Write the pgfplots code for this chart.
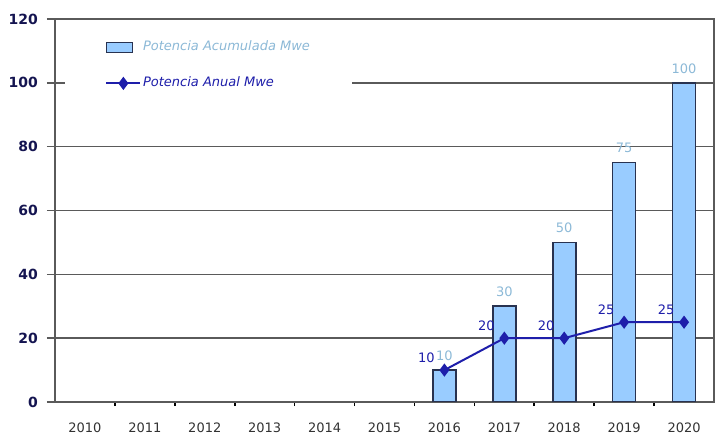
\documentclass[border=0pt]{standalone}
\usepackage{pgfplots}
\pgfplotsset{compat=1.18}
\usepackage{fontspec}
\setmainfont{DejaVu Sans}
\definecolor{barfill}{RGB}{153,204,255}
\definecolor{baredge}{RGB}{40,50,80}
\definecolor{linecol}{RGB}{30,30,170}
\definecolor{barlab}{RGB}{140,185,215}
\definecolor{ytickc}{RGB}{20,20,80}
\definecolor{xtickc}{RGB}{50,50,50}
\definecolor{gridc}{RGB}{90,90,90}
\begin{document}
\begin{tikzpicture}
\begin{axis}[
  scale only axis, width=329.5pt, height=191.5pt,
  xmin=-0.5, xmax=10.5, ymin=0, ymax=120,
  xtick pos=bottom, ytick pos=left,
  xtick={0,1,2,3,4,5,6,7,8,9,10},
  xticklabels={2010,2011,2012,2013,2014,2015,2016,2017,2018,2019,2020},
  major x tick style={draw=none},
  minor xtick={0.5,1.5,2.5,3.5,4.5,5.5,6.5,7.5,8.5,9.5},
  minor x tick style={draw=black, line width=0.8pt},
  minor tick length=2pt,
  ytick={0,20,40,60,80,100,120},
  major y tick style={draw=gridc, line width=0.8pt},
  major tick length=4pt,
  tick align=outside,
  ymajorgrids,
  grid style={gridc, line width=0.8pt},
  axis line style={gridc, line width=0.8pt},
  /pgf/number format/assume math mode=true,
  xticklabel style={font=\fontsize{6.5}{7}\selectfont, text=xtickc, yshift=-3pt},
  yticklabel style={font=\bfseries\fontsize{7}{8}\selectfont, text=ytickc, xshift=-1pt},
  legend style={at={(0.015,0.98)}, anchor=north west, fill=white, draw=none,
    font=\itshape\fontsize{6.5}{7}\selectfont, inner xsep=20pt, inner ysep=5pt,
    row sep=7.5pt, nodes={inner xsep=0.8pt}},
  legend cell align=left,
]
\addplot[ybar, bar width=11.5pt, fill=barfill, draw=baredge, line width=0.8pt,
  area legend,
  legend image code/.code={\draw[fill=barfill, draw=baredge, line width=0.6pt] (0pt,-2.5pt) rectangle (13pt,2.5pt);},
  nodes near coords,
  nodes near coords style={text=barlab, font=\fontsize{6.5}{7}\selectfont, anchor=south, yshift=1pt}]
  coordinates {(6,10) (7,30) (8,50) (9,75) (10,100)};
\addlegendentry{\textcolor{barlab}{Potencia Acumulada Mwe}}
\addplot[linecol, line width=1pt, mark=diamond*, mark size=2.5pt, mark options={fill=linecol},
  nodes near coords,
  nodes near coords style={text=linecol, font=\fontsize{6.5}{7}\selectfont, anchor=south, xshift=-9pt, yshift=0pt}]
  coordinates {(6,10) (7,20) (8,20) (9,25) (10,25)};
\addlegendentry{\textcolor{linecol}{Potencia Anual Mwe}}
\end{axis}
\path ([xshift=-27.5pt,yshift=-17.5pt]current axis.south west) rectangle ([xshift=3.5pt,yshift=9.5pt]current axis.north east);
\end{tikzpicture}
\end{document}
